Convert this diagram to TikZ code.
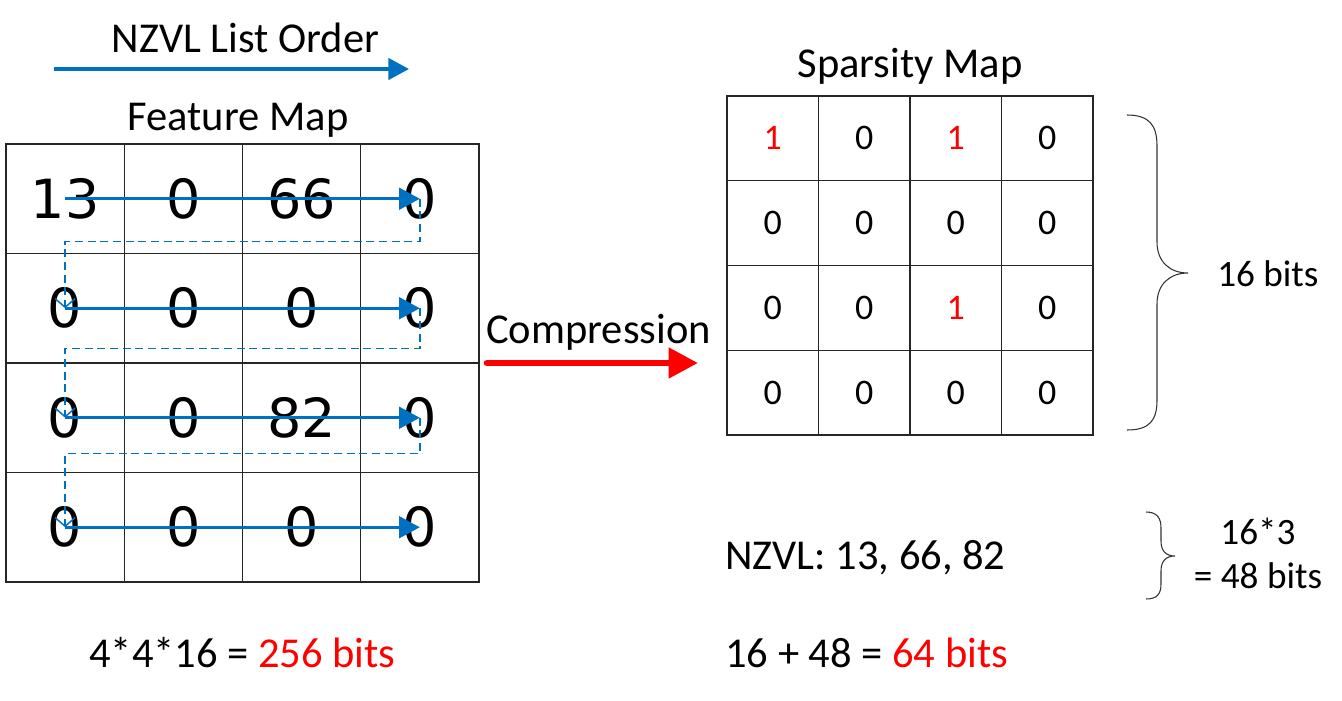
\documentclass[tikz,border=0pt]{standalone}
\usepackage{fontspec}
\setmainfont{Carlito}
\newfontfamily\dvs{DejaVu Sans}
\usetikzlibrary{arrows.meta}
\definecolor{oblue}{HTML}{0070C0}
\definecolor{ored}{HTML}{FF0000}
\begin{document}
\begin{tikzpicture}[x=0.75pt,y=-0.75pt,
  fcell/.style={minimum width=88.6875pt, minimum height=82.125pt, inner sep=0pt, outer sep=0pt, font=\dvs\fontsize{40.5}{40.5}\selectfont},
  scell/.style={minimum width=68.625pt, minimum height=63.5625pt, inner sep=0pt, outer sep=0pt, font=\fontsize{27}{27}\selectfont},
  gridline/.style={draw=black!85, line width=0.8pt},
  lbl/.style={inner sep=0pt, font=\fontsize{31.9}{31.9}\selectfont},
  smalllbl/.style={inner sep=0pt, font=\fontsize{27.9}{27.9}\selectfont},
  rowarrow/.style={oblue, line width=2.6pt, -{Triangle[length=15.5pt,width=16pt]}},
  zigzag/.style={oblue, line width=1.1pt, dash pattern=on 6pt off 3.5pt, -{Straight Barb[length=6.5pt,width=15pt]}},
  bracestyle/.style={black!80, line width=0.8pt}]
\useasboundingbox (0,0) rectangle (1342,700);

% Feature map
\foreach \r/\c/\v in {1/1/13,1/2/0,1/3/66,1/4/0,
                      2/1/0,2/2/0,2/3/0,2/4/0,
                      3/1/0,3/2/0,3/3/82,3/4/0,
                      4/1/0,4/2/0,4/3/0,4/4/0}
  \node[fcell] (f-\r-\c) at ({6+118.25*(\c-0.5)},{144+109.5*(\r-0.5)}) {\v};
\draw[gridline] (f-1-1.north west) rectangle (f-4-4.south east);
\foreach \c in {2,3,4} \draw[gridline] (f-1-\c.north west) -- (f-4-\c.south west);
\foreach \r in {2,3,4} \draw[gridline] (f-\r-1.north west) -- (f-\r-4.north east);

% Sparsity map
\foreach \r/\c/\v in {1/1/{\color{ored}1},1/2/0,1/3/{\color{ored}1},1/4/0,
                      2/1/0,2/2/0,2/3/0,2/4/0,
                      3/1/0,3/2/0,3/3/{\color{ored}1},3/4/0,
                      4/1/0,4/2/0,4/3/0,4/4/0}
  \node[scell] (s-\r-\c) at ({727+91.5*(\c-0.5)},{96+84.75*(\r-0.5)}) {\v};
\draw[gridline] (s-1-1.north west) rectangle (s-4-4.south east);
\foreach \c in {2,3,4} \draw[gridline] (s-1-\c.north west) -- (s-4-\c.south west);
\foreach \r in {2,3,4} \draw[gridline] (s-\r-1.north west) -- (s-\r-4.north east);

% Order connectors
\foreach \r/\n/\d in {1/2/43,2/3/40,3/4/36}
  \draw[zigzag] (f-\r-4.center) -- ++(0,\d) -| (f-\n-1.center);
\foreach \r in {1,...,4}
  \draw[rowarrow] (f-\r-1.center) -- (f-\r-4.center);

% Titles
\node[lbl, anchor=base] (order) at (245.5,52) {NZVL List Order};
\coordinate (oa) at (54,69);
\coordinate (ob) at (409,69);
\draw[rowarrow] (oa) -- (ob);
\node[lbl, anchor=base] (fm) at (238,130) {Feature Map};
\node[lbl, anchor=base] (sm) at (910,77) {Sparsity Map};

% Compression arrow
\node[lbl, anchor=base west] (comp) at (486,343) {Compression};
\coordinate (ca) at (487,363);
\coordinate (cb) at (698,363);
\draw[ored, line width=5pt, line cap=round, -{Triangle[length=22pt,width=22pt]}] (ca) -- (cb);

% Braces
\draw[bracestyle] (1127,115) .. controls (1150,115) and (1157,126) .. (1157,146) -- (1157,242)
  .. controls (1157,262) and (1170,273) .. (1188,273)
  .. controls (1170,273) and (1157,284) .. (1157,304) -- (1157,400)
  .. controls (1157,420) and (1150,430) .. (1127,430);
\draw[bracestyle] (1146,512) .. controls (1157,512) and (1161,518) .. (1161,528) -- (1161,541)
  .. controls (1161,551) and (1166,556) .. (1175,556)
  .. controls (1166,556) and (1161,561) .. (1161,571) -- (1161,584)
  .. controls (1161,594) and (1157,599) .. (1146,599);

% Bit counts
\node[smalllbl, anchor=base west] (b16) at (1217,286) {16 bits};
\node[smalllbl, anchor=base] (b48a) at (1258,544) {16*3};
\node[smalllbl, anchor=base] (b48b) at (1258,588) {= 48 bits};
\node[lbl, anchor=base west] (tot1) at (89,667) {4*4*16 = \textcolor{ored}{256 bits}};
\node[lbl, anchor=base west] (nzvl) at (725,569) {NZVL: 13, 66, 82};
\node[lbl, anchor=base west] (tot2) at (725,667) {16 + 48 = \textcolor{ored}{64 bits}};
\end{tikzpicture}
\end{document}
